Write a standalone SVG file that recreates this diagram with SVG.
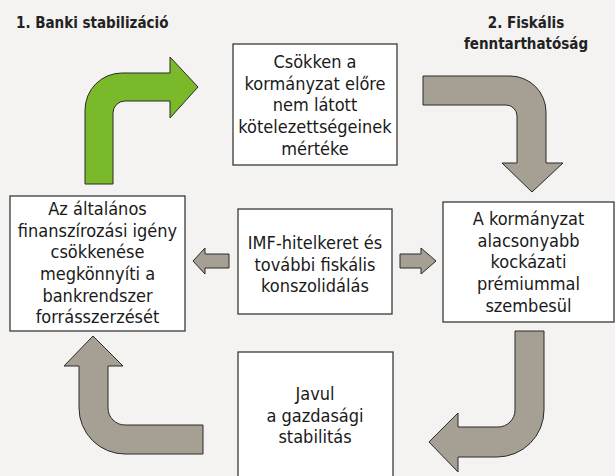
<svg xmlns="http://www.w3.org/2000/svg" width="615" height="476" viewBox="0 0 615 476">
<style>
.bg{fill:#f4f3f1}
.box{fill:#ffffff;stroke:#3a3a3a;stroke-width:1.3}
.t{font-family:"DejaVu Sans Condensed","DejaVu Sans",sans-serif;font-size:18px;fill:#1a1a1a;text-anchor:middle}
.h{font-family:"DejaVu Sans Condensed","DejaVu Sans",sans-serif;font-size:15px;font-weight:bold;fill:#222}
.ga{fill:#a69f94;stroke:#2a2a2a;stroke-width:1}
.gr{fill:#7ab929;stroke:#2a2a2a;stroke-width:1}
</style>
<rect class="bg" x="0" y="0" width="615" height="476"/>
<g id="titles">
<text class="h" x="16" y="28">1. Banki stabilizáció</text>
<text class="h" x="526" y="28" text-anchor="middle">2. Fiskális</text>
<text class="h" x="526" y="48.5" text-anchor="middle">fenntarthatóság</text>
</g>
<g id="connectors">
<path class="gr" d="M85,184 L85,110 A37,37 0 0 1 122,73 L170,73 L170,57 L198,87 L170,118 L170,101 L125,101 A12,12 0 0 0 113,113 L113,184 Z"/>
<path class="ga" d="M423,76 L510,76 A36,36 0 0 1 546,112 L546,163 L563,163 L532,192 L502,163 L517,163 L517,116 A11,11 0 0 0 506,105 L423,105 Z"/>
<path class="ga" d="M515,331 L544,331 L544,410 A47,47 0 0 1 497,457 L458,457 L458,472 L429,442 L458,413 L458,427 L498,427 A17,17 0 0 0 515,410 Z"/>
<path class="ga" d="M93,336 L123,366 L108,366 L108,408 A17,17 0 0 0 125,425 L203,425 L203,454 L125,454 A46,46 0 0 1 79,408 L79,366 L64,366 Z"/>
<path class="ga" d="M193,261 L205,248 L205,254 L229,254 L229,268 L205,268 L205,274 Z"/>
<path class="ga" d="M400,254 L421,254 L421,248 L436,261 L421,274 L421,268 L400,268 Z"/>
</g>
<g id="node-top">
<rect class="box" x="233" y="44" width="164" height="121"/>
<text class="t" x="315" y="68">Csökken a</text>
<text class="t" x="315" y="89.7">kormányzat előre</text>
<text class="t" x="315" y="111.3">nem látott</text>
<text class="t" x="315" y="133">kötelezettségeinek</text>
<text class="t" x="315" y="154.7">mértéke</text>
</g>
<g id="node-left">
<rect class="box" x="10" y="196" width="175" height="135"/>
<text class="t" x="97.5" y="215">Az általános</text>
<text class="t" x="97.5" y="236.7">finanszírozási igény</text>
<text class="t" x="97.5" y="258.3">csökkenése</text>
<text class="t" x="97.5" y="280">megkönnyíti a</text>
<text class="t" x="97.5" y="301.7">bankrendszer</text>
<text class="t" x="97.5" y="323.3">forrásszerzését</text>
</g>
<g id="node-middle">
<rect class="box" x="238" y="209" width="154" height="105"/>
<text class="t" x="315" y="249">IMF-hitelkeret és</text>
<text class="t" x="315" y="270.7">további fiskális</text>
<text class="t" x="315" y="292.3">konszolidálás</text>
</g>
<g id="node-right">
<rect class="box" x="443" y="202" width="171" height="120"/>
<text class="t" x="528.5" y="225">A kormányzat</text>
<text class="t" x="528.5" y="246.7">alacsonyabb</text>
<text class="t" x="528.5" y="268.3">kockázati</text>
<text class="t" x="528.5" y="290">prémiummal</text>
<text class="t" x="528.5" y="311.7">szembesül</text>
</g>
<g id="node-bottom">
<rect class="box" x="238" y="352" width="155" height="130"/>
<text class="t" x="315" y="400">Javul</text>
<text class="t" x="315" y="421.7">a gazdasági</text>
<text class="t" x="315" y="443.3">stabilitás</text>
</g>
</svg>
